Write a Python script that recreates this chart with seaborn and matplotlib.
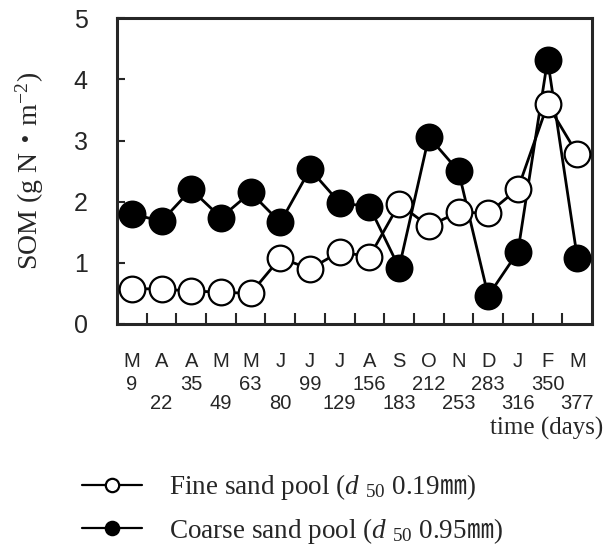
"""
SOM in fine and coarse sand pools over one year
"""

import matplotlib
matplotlib.use("Agg")
import matplotlib.pyplot as plt
from matplotlib.ticker import FixedLocator
import seaborn as sns
import numpy as np
import pandas as pd

# sampling months and elapsed days
months = ["M", "A", "A", "M", "M", "J", "J", "J", "A", "S", "O", "N", "D", "J", "F", "M"]
days = [9, 22, 35, 49, 63, 80, 99, 129, 156, 183, 212, 253, 283, 316, 350, 377]

# SOM (g N m-2)
fine = [0.58, 0.57, 0.54, 0.52, 0.50, 1.08, 0.90, 1.18, 1.10, 1.96, 1.60, 1.83, 1.81, 2.21, 3.59, 2.78]
coarse = [1.80, 1.68, 2.20, 1.74, 2.15, 1.66, 2.53, 1.98, 1.92, 0.92, 3.06, 2.50, 0.46, 1.18, 4.32, 1.08]

fine_label = "Fine sand pool ($d$ $_{50}$ 0.19$\\mathsf{\u339c}$)"
coarse_label = "Coarse sand pool ($d$ $_{50}$ 0.95$\\mathsf{\u339c}$)"

df = pd.DataFrame({"idx": np.arange(len(days)), "fine": fine, "coarse": coarse})

sns.set_style("ticks")
plt.rcParams["font.family"] = ["Liberation Serif", "Noto Sans CJK JP", "DejaVu Sans"]
plt.rcParams["mathtext.fontset"] = "custom"
plt.rcParams["mathtext.rm"] = "Liberation Serif"
plt.rcParams["mathtext.it"] = "Liberation Serif:italic"
plt.rcParams["mathtext.sf"] = "Noto Sans CJK JP"

sans = ["Liberation Sans Narrow", "Liberation Sans", "DejaVu Sans"]

fig = plt.figure(figsize=(6.03, 5.51), dpi=100)
ax = fig.add_axes([0.194, 0.412, 0.788, 0.555])

common = dict(color="black", lw=2, marker="o", markersize=18.5,
              markeredgewidth=1.6, markeredgecolor="black")
sns.lineplot(data=df, x="idx", y="coarse", ax=ax, markerfacecolor="black",
             label=coarse_label, zorder=3, **common)
sns.lineplot(data=df, x="idx", y="fine", ax=ax, markerfacecolor="white",
             label=fine_label, zorder=4, **common)

ax.set_xlim(-0.5, len(days) - 0.5)
ax.set_ylim(0, 5)
ax.set_yticks(range(6))
ax.set_yticklabels([str(v) for v in range(6)], family=sans, fontsize=18)
ax.tick_params(axis="y", direction="in", length=6, width=1.5, pad=21)

# month labels at the points, boundary ticks between them
ax.set_xticks(df["idx"])
ax.set_xticklabels(months, family=sans, fontsize=14.5)
ax.tick_params(axis="x", which="major", length=0, pad=20)
ax.xaxis.set_minor_locator(FixedLocator(np.arange(0.5, len(days) - 1, 1.0)))
ax.tick_params(axis="x", which="minor", direction="in", length=8, width=1.5)

for i, d in enumerate(days):
    yy = -0.197 if i % 2 == 0 else -0.26
    ax.text(i, yy, str(d), transform=ax.get_xaxis_transform(), ha="center",
            va="center", family=sans, fontsize=14.5)

ax.text(1.024, -0.34, "time (days)", transform=ax.transAxes, ha="right",
        va="center", fontsize=18)

ax.set_xlabel("")
ax.set_ylabel("SOM (g N$\\mathsf{\u30fb}$m$^{-2}$)", fontsize=20, labelpad=20)

for s in ax.spines.values():
    s.set_visible(True)
    s.set_linewidth(2.2)

handles, labels = ax.get_legend_handles_labels()
ax.get_legend().remove()
leg = fig.legend(handles[::-1], labels[::-1], loc="upper left",
                 bbox_to_anchor=(0.136, 0.143), frameon=False, fontsize=19.5,
                 markerscale=0.52, handlelength=2.2, handletextpad=1.0,
                 labelspacing=0.5, borderpad=0, borderaxespad=0)
for ln in leg.get_lines():
    ln.set_linewidth(1.6)

fig.savefig("out.png", dpi=100)
